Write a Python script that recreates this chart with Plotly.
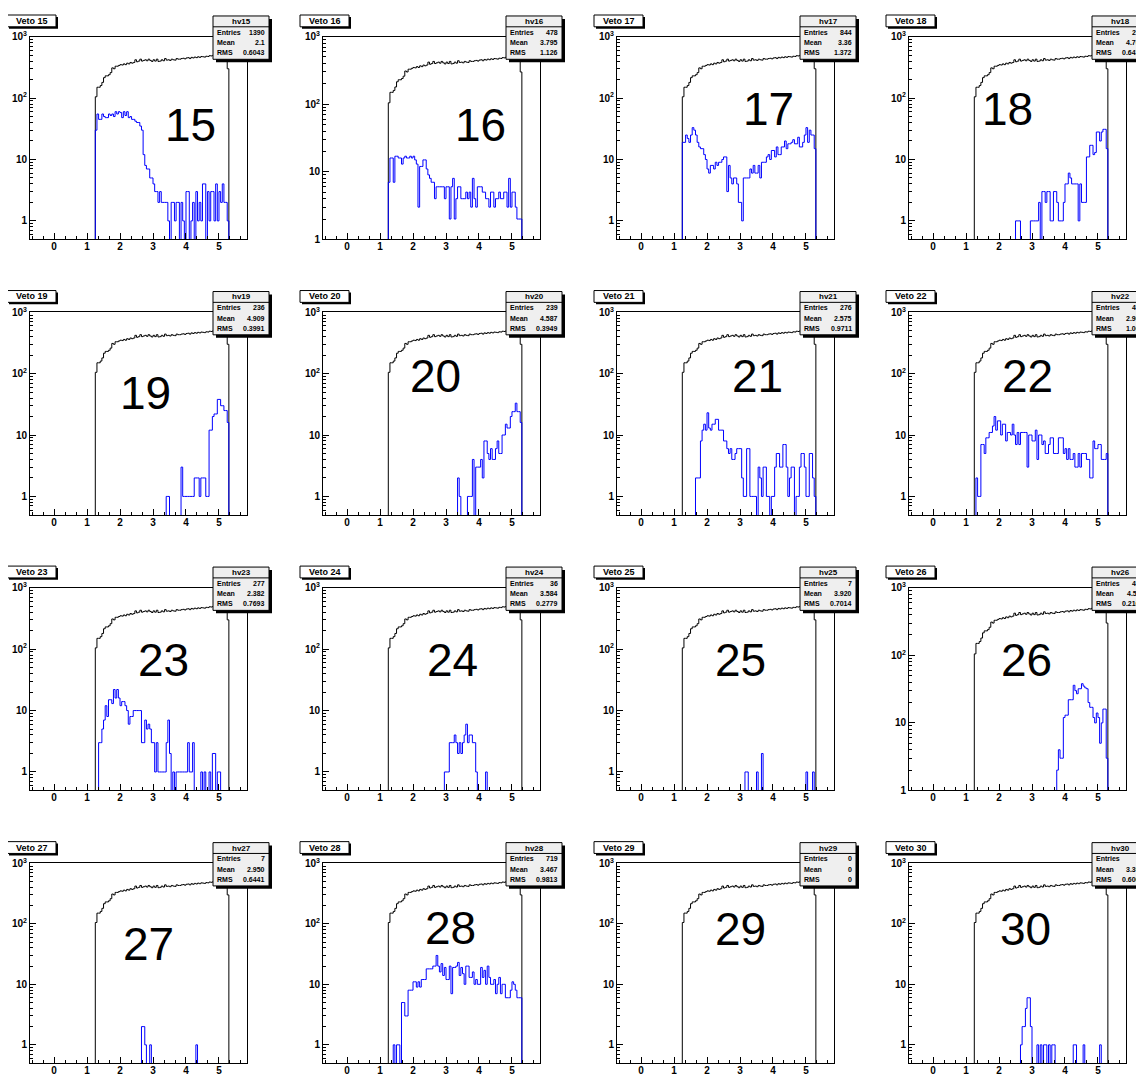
import math
import plotly.graph_objects as go

# ---------------- data ----------------
veto_ids = [15, 16, 17, 18, 19, 20, 21, 22, 23, 24, 25, 26, 27, 28, 29, 30]
hist_names = ["hv15", "hv16", "hv17", "hv18", "hv19", "hv20", "hv21", "hv22",
              "hv23", "hv24", "hv25", "hv26", "hv27", "hv28", "hv29", "hv30"]
stat_entries = ["1390", "478", "844", "297", "236", "239", "276", "455",
                "277", "36", "7", "434", "7", "719", "0", "38"]
stat_mean = ["2.1", "3.795", "3.36", "4.768", "4.909", "4.587", "2.575", "2.906",
             "2.382", "3.584", "3.920", "4.511", "2.950", "3.467", "0", "3.303"]
stat_rms = ["0.6043", "1.126", "1.372", "0.6417", "0.3991", "0.3949", "0.9711", "1.066",
            "0.7693", "0.2779", "0.7014", "0.2162", "0.6441", "0.9813", "0", "0.6004"]
y_axis_min = [0.5, 1, 0.5, 0.5, 0.5, 0.5, 0.5, 0.5,
              0.5, 0.5, 0.5, 1, 0.5, 0.5, 0.5, 0.5]

bin_low = 1.25
bin_width = 0.05

reference_counts = [
    105, 150, 150, 160, 180, 215, 230, 230, 240, 260,
    310, 300, 330, 330, 340, 350, 345, 360, 350, 370,
    360, 380, 370, 380, 420, 390, 400, 430, 400, 410,
    420, 405, 430, 410, 395, 420, 400, 430, 395, 400,
    420, 405, 440, 415, 420, 410, 430, 420, 415, 440,
    430, 430, 440, 445, 435, 450, 455, 440, 460, 450,
    465, 455, 470, 460, 475, 470, 465, 480, 475, 490,
    485, 495, 480, 500, 495, 505, 500, 510, 505, 500,
    300]

veto15 = [30, 55, 45, 45, 55, 50, 48, 48, 55, 52,
          55, 50, 60, 55, 60, 58, 48, 60, 52, 60,
          48, 50, 45, 45, 42, 40, 40, 35, 30, 12,
          8, 7, 7, 5, 5, 4, 3, 3, 2, 3,
          2, 2, 2, 2, 1, 0, 2, 2, 1, 2,
          2, 0, 2, 1, 0, 3, 3, 0, 1, 2,
          0, 3, 1, 2, 1, 4, 4, 0, 3, 1,
          3, 3, 1, 4, 1, 3, 2, 4, 2, 2,
          1]
veto16 = [7, 16, 16, 7, 17, 17, 16, 16, 13, 16,
          17, 16, 16, 17, 16, 17, 15, 13, 3, 12,
          12, 15, 15, 11, 9, 8, 7, 7, 4, 6,
          6, 6, 6, 6, 4, 6, 6, 2, 6, 8,
          2, 4, 6, 6, 4, 4, 4, 5, 4, 5,
          3, 8, 4, 3, 6, 6, 6, 5, 5, 4,
          4, 3, 5, 5, 3, 4, 4, 5, 4, 4,
          5, 5, 3, 8, 3, 5, 5, 3, 2, 2,
          2]
veto17 = [19, 19, 25, 22, 19, 25, 33, 30, 25, 19,
          16, 15, 15, 12, 10, 7, 6, 8, 8, 7,
          9, 8, 9, 9, 10, 11, 11, 3, 8, 5,
          4, 5, 5, 4, 2, 2, 1, 5, 5, 5,
          5, 7, 6, 8, 6, 6, 8, 5, 9, 9,
          9, 11, 12, 10, 14, 14, 11, 16, 12, 12,
          16, 16, 20, 15, 18, 18, 19, 21, 18, 18,
          23, 16, 16, 19, 25, 33, 19, 30, 25, 25,
          15]
veto18 = [0, 0, 0, 0, 0, 0, 0, 0, 0, 0,
          0, 0, 0, 0, 0, 0, 0, 0, 0, 0,
          0, 0, 0, 0, 0, 1, 1, 1, 0, 0,
          0, 0, 0, 0, 1, 1, 1, 1, 1, 2,
          0, 3, 3, 2, 3, 3, 1, 1, 3, 3,
          2, 1, 1, 1, 2, 4, 4, 6, 5, 4,
          4, 4, 4, 1, 4, 2, 2, 2, 11, 11,
          17, 17, 12, 13, 28, 28, 20, 28, 31, 31,
          15]
veto19 = [0, 0, 0, 0, 0, 0, 0, 0, 0, 0,
          0, 0, 0, 0, 0, 0, 0, 0, 0, 0,
          0, 0, 0, 0, 0, 0, 0, 0, 0, 0,
          0, 0, 0, 0, 0, 0, 0, 0, 0, 0,
          0, 0, 0, 1, 1, 0, 0, 0, 0, 0,
          0, 0, 3, 1, 1, 1, 1, 1, 1, 1,
          2, 2, 2, 1, 2, 2, 2, 1, 1, 12,
          12, 20, 22, 22, 38, 38, 30, 30, 25, 25,
          16]
veto20 = [0, 0, 0, 0, 0, 0, 0, 0, 0, 0,
          0, 0, 0, 0, 0, 0, 0, 0, 0, 0,
          0, 0, 0, 0, 0, 0, 0, 0, 0, 0,
          0, 0, 0, 0, 0, 0, 0, 0, 0, 0,
          0, 0, 2, 1, 0, 0, 0, 0, 1, 1,
          1, 4, 0, 3, 3, 3, 4, 2, 8, 8,
          5, 4, 6, 4, 4, 6, 8, 5, 5, 10,
          10, 15, 13, 13, 20, 24, 24, 33, 24, 24,
          16]
veto21 = [0, 0, 0, 0, 0, 0, 0, 0, 2, 2,
          2, 8, 12, 15, 12, 23, 13, 12, 15, 15,
          18, 18, 12, 12, 12, 8, 8, 6, 5, 6,
          4, 4, 5, 6, 6, 6, 2, 1, 1, 6,
          6, 1, 1, 1, 1, 0, 3, 2, 1, 3,
          3, 1, 1, 0, 1, 1, 3, 5, 5, 3,
          3, 7, 7, 3, 1, 2, 3, 3, 0, 1,
          1, 3, 5, 5, 3, 1, 1, 5, 5, 2,
          1]
veto22 = [0, 2, 1, 1, 7, 7, 5, 9, 9, 11,
          11, 14, 20, 12, 17, 17, 10, 15, 15, 8,
          11, 11, 10, 15, 10, 7, 11, 7, 11, 11,
          11, 11, 3, 10, 10, 8, 8, 12, 4, 10,
          10, 7, 8, 5, 5, 7, 9, 9, 5, 5,
          5, 9, 9, 9, 5, 6, 4, 6, 4, 4,
          5, 3, 3, 5, 3, 5, 5, 5, 4, 4,
          2, 2, 8, 6, 6, 7, 7, 4, 4, 4,
          5]
veto23 = [0, 0, 3, 3, 5, 7, 12, 8, 15, 15,
          13, 22, 16, 22, 16, 12, 14, 14, 12, 10,
          6, 8, 8, 10, 10, 10, 10, 10, 3, 3,
          7, 5, 6, 5, 3, 3, 1, 3, 1, 1,
          1, 1, 1, 3, 7, 2, 0, 1, 0, 1,
          1, 1, 1, 1, 1, 1, 3, 1, 1, 3,
          0, 0, 0, 0, 1, 0, 1, 0, 0, 1,
          0, 2, 2, 0, 1, 1, 0, 0, 0, 0,
          0]
veto24 = [0, 0, 0, 0, 0, 0, 0, 0, 0, 0,
          0, 0, 0, 0, 0, 0, 0, 0, 0, 0,
          0, 0, 0, 0, 0, 0, 0, 0, 0, 0,
          0, 0, 0, 0, 1, 1, 1, 3, 3, 3,
          4, 3, 2, 3, 2, 3, 4, 6, 3, 4,
          4, 3, 3, 1, 0, 0, 0, 0, 0, 1,
          0, 0, 0, 0, 0, 0, 0, 0, 0, 0,
          0, 0, 0, 0, 0, 0, 0, 0, 0, 0,
          0]
veto25 = [0, 0, 0, 0, 0, 0, 0, 0, 0, 0,
          0, 0, 0, 0, 0, 0, 0, 0, 0, 0,
          0, 0, 0, 0, 0, 0, 0, 0, 0, 0,
          0, 0, 0, 0, 0, 0, 0, 0, 1, 1,
          0, 0, 0, 0, 0, 1, 0, 0, 2, 0,
          0, 0, 0, 0, 0, 0, 0, 0, 0, 0,
          0, 0, 0, 0, 0, 0, 0, 0, 0, 0,
          0, 0, 0, 0, 0, 1, 0, 0, 0, 1,
          0]
veto26 = [0, 0, 0, 0, 0, 0, 0, 0, 0, 0,
          0, 0, 0, 0, 0, 0, 0, 0, 0, 0,
          0, 0, 0, 0, 0, 0, 0, 0, 0, 0,
          0, 0, 0, 0, 0, 0, 0, 0, 0, 0,
          0, 0, 0, 0, 0, 0, 0, 0, 0, 0,
          2, 4, 3, 3, 12, 13, 13, 22, 22, 22,
          36, 30, 27, 32, 32, 38, 35, 33, 32, 20,
          17, 17, 12, 10, 14, 12, 5, 10, 16, 16,
          3]
veto27 = [0, 0, 0, 0, 0, 0, 0, 0, 0, 0,
          0, 0, 0, 0, 0, 0, 0, 0, 0, 0,
          0, 0, 0, 0, 0, 0, 0, 0, 2, 2,
          1, 0, 0, 1, 0, 0, 0, 0, 0, 0,
          0, 0, 0, 0, 0, 0, 0, 0, 0, 0,
          0, 0, 0, 0, 0, 0, 0, 0, 0, 0,
          0, 1, 0, 0, 0, 0, 0, 0, 0, 0,
          0, 0, 0, 0, 0, 0, 0, 0, 0, 0,
          0]
veto28 = [0, 0, 0, 1, 0, 1, 1, 0, 5, 5,
          3, 3, 8, 8, 8, 11, 11, 9, 11, 9,
          12, 12, 12, 18, 18, 18, 18, 20, 20, 30,
          20, 16, 22, 14, 19, 12, 12, 20, 7, 19,
          19, 20, 23, 14, 19, 15, 10, 20, 20, 13,
          13, 16, 10, 12, 10, 10, 19, 13, 17, 10,
          20, 13, 10, 10, 12, 7, 10, 13, 7, 10,
          10, 6, 6, 6, 8, 11, 10, 8, 6, 6,
          6]
veto29 = [0, 0, 0, 0, 0, 0, 0, 0, 0, 0,
          0, 0, 0, 0, 0, 0, 0, 0, 0, 0,
          0, 0, 0, 0, 0, 0, 0, 0, 0, 0,
          0, 0, 0, 0, 0, 0, 0, 0, 0, 0,
          0, 0, 0, 0, 0, 0, 0, 0, 0, 0,
          0, 0, 0, 0, 0, 0, 0, 0, 0, 0,
          0, 0, 0, 0, 0, 0, 0, 0, 0, 0,
          0, 0, 0, 0, 0, 0, 0, 0, 0, 0,
          0]
veto30 = [0, 0, 0, 0, 0, 0, 0, 0, 0, 0,
          0, 0, 0, 0, 0, 0, 0, 0, 0, 0,
          0, 0, 0, 0, 0, 0, 0, 0, 1, 2,
          2, 4, 6, 6, 2, 0, 0, 0, 1, 0,
          1, 0, 1, 1, 0, 1, 0, 1, 1, 0,
          0, 0, 0, 0, 0, 0, 0, 0, 0, 0,
          1, 1, 0, 0, 0, 0, 1, 0, 0, 0,
          0, 0, 0, 0, 0, 0, 1, 0, 0, 0,
          0]

veto_counts = [veto15, veto16, veto17, veto18, veto19, veto20, veto21, veto22,
               veto23, veto24, veto25, veto26, veto27, veto28, veto29, veto30]

x_tick_values = [0, 1, 2, 3, 4, 5]
y_tick_values = [1, 10, 100, 1000]
y_tick_text = ["1", "10", "10<sup>2</sup>", "10<sup>3</sup>"]

# ---------------- layout geometry (page pixels) ----------------
PAGE_MARGIN = 8            # default body margin of the html page
W, H = 1144 - 2 * PAGE_MARGIN, 1084 - 2 * PAGE_MARGIN
col_left = [30, 323, 617, 909]
row_top = [30, 310, 590, 870]
row_height = [206, 206, 206, 203]
frame_w = 217
x_range = [-0.73, 5.85]
label_pos = [(190, 120), (480, 120), (768, 104), (1007, 104),
             (145, 392), (435, 375), (757, 375), (1027, 375),
             (163, 663), (452, 663), (740, 663), (1026, 663),
             (148, 952), (450, 936), (740, 937), (1025, 937)]

FLOOR = 1e-2
TICKFONT = dict(family="Liberation Sans, Arial, sans-serif", size=10, color="black", weight="bold")


def px(x):
    return (x - PAGE_MARGIN) / W


def py(y):
    return 1 - (y - PAGE_MARGIN) / H


def step_xy(counts):
    edges = [bin_low + bin_width * k for k in range(len(counts) + 1)]
    xs = [edges[0]]
    ys = [FLOOR]
    for k, c in enumerate(counts):
        xs.append(edges[k])
        ys.append(c if c > 0 else FLOOR)
    xs.append(edges[-1])
    ys.append(counts[-1] if counts[-1] > 0 else FLOOR)
    xs.append(edges[-1])
    ys.append(FLOOR)
    return xs, ys


fig = go.Figure()
layout = dict(width=W, height=H, margin=dict(l=0, r=0, t=0, b=0, pad=0),
              paper_bgcolor="white", plot_bgcolor="white", showlegend=False)
shapes = []
annotations = []

x_minor = [v / 3 for v in range(-2, 18) if v % 3 != 0]

for i, vid in enumerate(veto_ids):
    r, c = divmod(i, 4)
    L = col_left[c]
    T = row_top[r]
    fh = row_height[r]
    n = i + 1
    xa = "x" if n == 1 else f"x{n}"
    ya = "y" if n == 1 else f"y{n}"
    xkey = "xaxis" if n == 1 else f"xaxis{n}"
    ykey = "yaxis" if n == 1 else f"yaxis{n}"

    ymin = y_axis_min[i]
    ymin_log = math.log10(ymin)
    y_minor = []
    for d in range(-1, 3):
        for m in range(2, 10):
            v = m * 10 ** d
            if ymin <= v < 1000:
                y_minor.append(v)

    layout[xkey] = dict(domain=[px(L), px(L + frame_w)], anchor=ya, range=x_range,
                        showgrid=False, zeroline=False, showline=True, mirror=True,
                        linecolor="black", linewidth=1, ticks="inside", ticklen=6,
                        tickcolor="black", tickvals=x_tick_values, ticklabelstandoff=-2,
                        ticktext=[str(v) for v in x_tick_values], tickfont=TICKFONT,
                        minor=dict(ticks="inside", ticklen=3, tickcolor="black",
                                   tickvals=x_minor, showgrid=False))
    layout[ykey] = dict(domain=[py(T + fh), py(T)], anchor=xa, type="log",
                        range=[ymin_log, 3], showgrid=False, zeroline=False,
                        showline=True, mirror=True, linecolor="black", linewidth=1,
                        ticks="inside", ticklen=6, tickcolor="black",
                        tickvals=y_tick_values, ticktext=y_tick_text, tickfont=TICKFONT,
                        minor=dict(ticks="inside", ticklen=3, tickcolor="black",
                                   tickvals=y_minor, showgrid=False))

    bx, by = step_xy(reference_counts)
    fig.add_trace(go.Scatter(x=bx, y=by, mode="lines", line=dict(color="black", width=1, shape="hv"),
                             xaxis=xa, yaxis=ya, hoverinfo="skip"))
    vx, vy = step_xy(veto_counts[i])
    fig.add_trace(go.Scatter(x=vx, y=vy, mode="lines", line=dict(color="#0000ff", width=1, shape="hv"),
                             xaxis=xa, yaxis=ya, hoverinfo="skip"))

    # title box "Veto NN" with shadow
    tl, tt, tw, th = L - 23, T - 22, 49, 12
    shapes.append(dict(type="rect", xref="paper", yref="paper",
                       x0=px(tl + 2), x1=px(tl + tw + 2), y0=py(tt + th + 2), y1=py(tt + 2),
                       fillcolor="black", line=dict(width=0), layer="above"))
    shapes.append(dict(type="rect", xref="paper", yref="paper",
                       x0=px(tl), x1=px(tl + tw), y0=py(tt + th), y1=py(tt),
                       fillcolor="white", line=dict(color="black", width=1), layer="above"))
    annotations.append(dict(text=f"Veto {vid}", xref="paper", yref="paper",
                            x=px(tl + tw / 2), y=py(tt + th / 2), xanchor="center", yanchor="middle",
                            showarrow=False, font=dict(family="Liberation Sans, Arial", size=9,
                                                       color="black", weight="bold")))

    # stats box
    sl, st, sw, sh = L + frame_w - 34, T - 21, 56, 44
    shapes.append(dict(type="rect", xref="paper", yref="paper",
                       x0=px(sl + 3), x1=px(sl + sw + 3), y0=py(st + sh + 3), y1=py(st + 3),
                       fillcolor="black", line=dict(width=0), layer="above"))
    shapes.append(dict(type="rect", xref="paper", yref="paper",
                       x0=px(sl), x1=px(sl + sw), y0=py(st + sh), y1=py(st),
                       fillcolor="#efefef", line=dict(color="black", width=1), layer="above"))
    shapes.append(dict(type="line", xref="paper", yref="paper",
                       x0=px(sl), x1=px(sl + sw), y0=py(st + 11), y1=py(st + 11),
                       line=dict(color="black", width=1), layer="above"))
    sfont = dict(family="Liberation Sans, Arial", size=7, color="black", weight="bold")
    annotations.append(dict(text=hist_names[i], xref="paper", yref="paper",
                            x=px(sl + sw / 2), y=py(st + 5.5), xanchor="center", yanchor="middle",
                            showarrow=False, font=dict(family="Liberation Sans, Arial", size=8,
                                                       color="black", weight="bold")))
    for j, (lab, val) in enumerate([("Entries", stat_entries[i]), ("Mean", stat_mean[i]),
                                    ("RMS", stat_rms[i])]):
        yy = st + 16.5 + j * 10.5
        annotations.append(dict(text=lab, xref="paper", yref="paper", x=px(sl + 2), y=py(yy),
                                xanchor="left", yanchor="middle", showarrow=False, font=sfont))
        annotations.append(dict(text=val, xref="paper", yref="paper", x=px(sl + sw - 2), y=py(yy),
                                xanchor="right", yanchor="middle", showarrow=False, font=sfont))

    # big number label
    lx, ly = label_pos[i]
    annotations.append(dict(text=str(vid), xref="paper", yref="paper", x=px(lx), y=py(ly),
                            xanchor="center", yanchor="middle", showarrow=False,
                            font=dict(family="Comic Sans MS, Liberation Sans, Arial", size=46,
                                      color="black")))

layout["shapes"] = shapes
layout["annotations"] = annotations
fig.update_layout(**layout)
fig.write_html("out.html", config={"displayModeBar": False})
